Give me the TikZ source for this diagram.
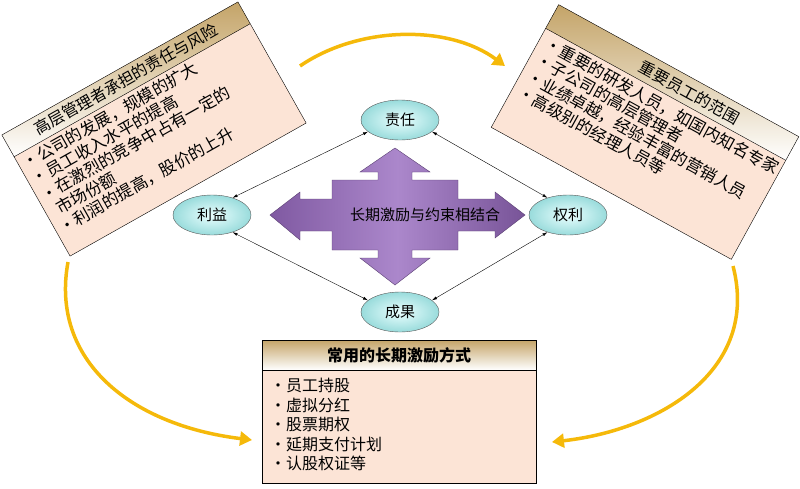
\documentclass[tikz,border=0pt]{standalone}
\usepackage{fontspec}
\setmainfont{Noto Sans CJK SC}
\usetikzlibrary{positioning,arrows.meta,shadings,shapes.geometric}
\definecolor{peach}{RGB}{252,228,214}
\definecolor{tan}{RGB}{196,164,104}
\definecolor{gold}{RGB}{245,185,10}
\definecolor{lila}{RGB}{150,105,190}
\tikzset{
  oval/.style={ellipse,draw=gray!70!black,inner color=cyan!8,outer color=cyan!30!teal!40,
    minimum width=78pt,minimum height=40pt,font=\fontsize{15}{15}\selectfont},
  bodytext/.style={anchor=north west,align=left,inner sep=0pt,transform shape,
    font=\fontsize{16.5}{18.5}\selectfont},
  headtext/.style={inner sep=0pt,transform shape,font=\fontsize{16}{16}\selectfont},
  thin arrow/.style={{Latex[length=5pt,width=3pt]}-{Latex[length=5pt,width=3pt]},thin},
  gold arrow/.style={-{Triangle[length=12pt,width=14pt]},line width=3.5pt,gold}
}
\begin{document}
\begin{tikzpicture}[x=1pt,y=-1pt]
\useasboundingbox (0,0) rectangle (800,488);

% left panel
\begin{scope}[shift={(154,129)},rotate=29.4]
\fill[peach] (-135.5,-69.5) rectangle (135.5,69.5);
\shade[top color=tan,bottom color=white] (-135.5,-69.5) rectangle (135.5,-44.5);
\draw (-135.5,-69.5) rectangle (135.5,69.5);
\draw (-135.5,-44.5) -- (135.5,-44.5);
\node[headtext] (lhead) at (0,-57) {高层管理者承担的责任与风险};
\node[bodytext] (lbody) at (-131,-41) {•公司的发展，规模的扩大\\•员工收入水平的提高\\•在激烈的竞争中占有一定的\\\ \ 市场份额\\•利润的提高，股价的上升};
\end{scope}

% right panel
\begin{scope}[shift={(645,132)},rotate=-28.8]
\fill[peach] (-137,-70) rectangle (137,70);
\shade[top color=tan,bottom color=white] (-137,-70) rectangle (137,-43);
\draw (-137,-70) rectangle (137,70);
\draw (-137,-43) -- (137,-43);
\node[headtext] (rhead) at (20,-56) {重要员工的范围};
\node[bodytext] (rbody) at (-130,-39) {•重要的研发人员，如国内知名专家\\•子公司的高层管理者\\•业绩卓越，经验丰富的营销人员\\•高级别的经理人员等};
\end{scope}

% bottom box
\fill[peach] (262,340) rectangle (536,483);
\shade[top color=tan,bottom color=white] (262,340) rectangle (536,370);
\draw (262,340) rectangle (536,483);
\draw (262,370) -- (536,370);
\node[headtext,font=\fontsize{16}{16}\selectfont\bfseries] (bhead) at (399,355) {常用的长期激励方式};
\node[bodytext,font=\fontsize{16}{19.5}\selectfont] (bbody) at (270,378) {•员工持股\\•虚拟分红\\•股票期权\\•延期支付计划\\•认股权证等};

% purple cross
\shade[left color=lila!85!black,right color=lila!80!black,middle color=lila!80,draw=lila!60!black]
  (332,180) -- (378,180) -- (378,172) -- (360,172) -- (395,148) -- (430,172) -- (412,172) -- (412,180)
  -- (458,180) -- (458,199) -- (495,199) -- (495,192) -- (525,215) -- (495,238) -- (495,231) -- (458,231)
  -- (458,250) -- (412,250) -- (412,258) -- (430,258) -- (395,285) -- (360,258) -- (378,258) -- (378,250)
  -- (332,250) -- (332,231) -- (300,231) -- (300,240) -- (270,215) -- (300,192) -- (300,199) -- (332,199) -- cycle;
\node[font=\fontsize{15}{15}\selectfont] (centre) at (425,215) {长期激励与约束相结合};

% ovals
\node[oval] (duty) at (400,120) {责任};
\node[oval] (gain) at (212,215) {利益};
\node[oval] (right) at (568,215) {权利};
\node[oval] (result) at (400,312) {成果};

\draw[thin arrow] (duty.200) -- (gain.40);
\draw[thin arrow] (duty.-20) -- (right.140);
\draw[thin arrow] (gain.-40) -- (result.160);
\draw[thin arrow] (right.-140) -- (result.20);

% gold arrows
\coordinate (ta) at (300,66);
\coordinate (tb) at (505,66);
\coordinate (la) at (68,262);
\coordinate (lb) at (252,440);
\coordinate (ra) at (733,266);
\coordinate (rb) at (552,442);
\draw[gold arrow] (ta) .. controls (360,25) and (450,25) .. (tb);
\draw[gold arrow] (la) .. controls (50,360) and (130,425) .. (lb);
\draw[gold arrow] (ra) .. controls (760,370) and (660,430) .. (rb);
\end{tikzpicture}
\end{document}
